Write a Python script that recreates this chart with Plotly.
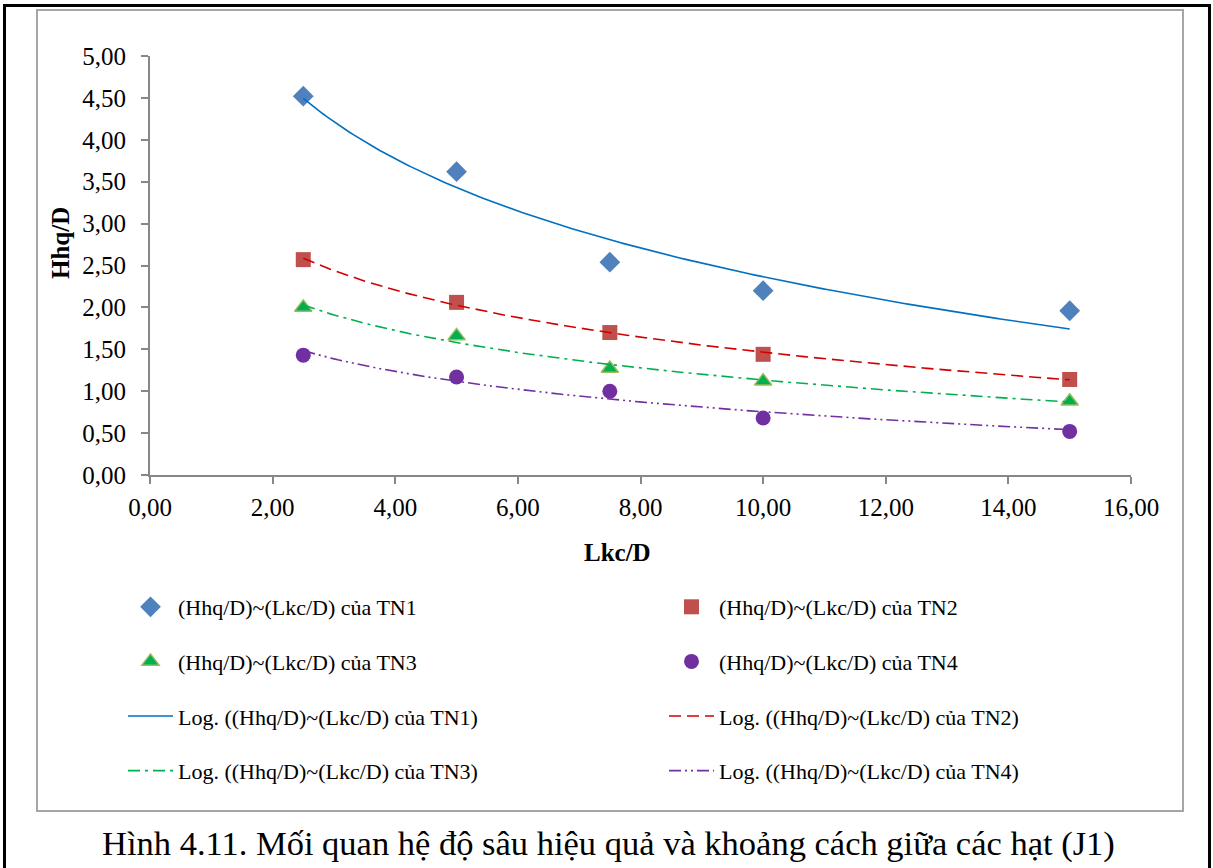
import numpy as np
import plotly.graph_objects as go

# ---- data ----
lkc = [2.5, 5.0, 7.5, 10.0, 15.0]
tn1 = [4.52, 3.62, 2.54, 2.20, 1.96]
tn2 = [2.57, 2.06, 1.70, 1.44, 1.14]
tn3 = [2.00, 1.66, 1.27, 1.12, 0.88]
tn4 = [1.43, 1.17, 1.00, 0.68, 0.52]
names = ["TN1", "TN2", "TN3", "TN4"]
x_ticks = [0, 2, 4, 6, 8, 10, 12, 14, 16]
y_ticks = [0, 0.5, 1, 1.5, 2, 2.5, 3, 3.5, 4, 4.5, 5]

OFF = 0  # body margin removed via post_script
W_FIG, H_FIG = 1213, 868
# plot area in screen pixels
SL, SR, ST, SB = 150, 1131, 56, 475
L, R, T, B = SL - OFF, SR - OFF, ST - OFF, SB - OFF
PW, PH = R - L, B - T

def px(xs_):
    return (xs_ - SL) / PW

def py(ys_):
    return (SB - ys_) / PH

FONT = "Liberation Serif"

series = [tn1, tn2, tn3, tn4]
marker_styles = [
    dict(symbol="diamond", size=16, color="#4F81BD", line=dict(width=0)),
    dict(symbol="square", size=15, color="#C0504D", line=dict(width=0)),
    dict(symbol="triangle-up", size=15, color="#00B050", line=dict(width=1.5, color="#9BBB59")),
    dict(symbol="circle", size=15, color="#7030A0", line=dict(width=0)),
]
line_styles = [
    dict(color="#0070C0", width=1.6, dash="solid"),
    dict(color="#D00000", width=1.6, dash="12px,6px"),
    dict(color="#00B050", width=1.6, dash="12px,5px,3px,5px"),
    dict(color="#7030A0", width=1.6, dash="12px,4px,2px,4px,2px,4px"),
]
legend_of = ["legend", "legend2", "legend", "legend2"]

fig = go.Figure()
lx = np.log(np.array(lkc))
xs = np.linspace(min(lkc), max(lkc), 200)
for i, (nm, ys) in enumerate(zip(names, series)):
    fig.add_trace(go.Scatter(
        x=lkc, y=ys, mode="markers", marker=marker_styles[i],
        name=f"(Hhq/D)~(Lkc/D) của {nm}", legend=legend_of[i],
        legendgroup=f"m{i}", legendrank=i // 2 * 10 + 1))
for i, (nm, ys) in enumerate(zip(names, series)):
    a, b = np.polyfit(lx, np.array(ys), 1)
    fig.add_trace(go.Scatter(
        x=xs, y=a * np.log(xs) + b, mode="lines", line=line_styles[i],
        name=f"Log. ((Hhq/D)~(Lkc/D) của {nm})", legend=legend_of[i],
        legendgroup=f"l{i}", legendrank=100 + i // 2 * 10 + 1))

axis_common = dict(
    showgrid=False, zeroline=False, showline=True, linecolor="#878787", linewidth=2,
    ticks="outside", ticklen=7, tickwidth=1.5, tickcolor="#878787",
    tickfont=dict(family=FONT, size=25, color="black"), tickformat=".2f",
)

leg_common = dict(
    orientation="v", font=dict(family=FONT, size=22, color="black"),
    bgcolor="rgba(0,0,0,0)", traceorder="grouped", tracegroupgap=23,
    itemwidth=45, xref="paper", yref="paper", yanchor="top", xanchor="left",
)

fig.update_layout(
    width=W_FIG, height=H_FIG,
    margin=dict(l=L, r=W_FIG - R, t=T, b=H_FIG - B, autoexpand=False),
    paper_bgcolor="white", plot_bgcolor="white",
    separators=",.",
    showlegend=True,
    font=dict(family=FONT),
    xaxis=dict(range=[0, 16], tickvals=x_ticks, automargin=False, ticklabelstandoff=2, **axis_common),
    yaxis=dict(range=[0, 5], tickvals=y_ticks, automargin=False, ticklabelstandoff=10, **axis_common),
    legend=dict(x=px(123), y=py(586), **leg_common),
    legend2=dict(x=px(664), y=py(586), **leg_common),
    annotations=[
        dict(text="<b>Hhq/D</b>", x=px(60), y=py(243), xref="paper", yref="paper",
             xanchor="center", yanchor="middle",
             textangle=-90, showarrow=False, font=dict(family=FONT, size=25, color="black")),
        dict(text="<b>Lkc/D</b>", x=px(617), y=py(552), xref="paper", yref="paper",
             xanchor="center", yanchor="middle",
             showarrow=False, font=dict(family=FONT, size=25, color="black")),
        dict(text="Hình 4.11. Mối quan hệ độ sâu hiệu quả và khoảng cách giữa các hạt (J1)",
             x=px(608), y=py(843), xref="paper", yref="paper", showarrow=False,
             xanchor="center", yanchor="middle",
             font=dict(family=FONT, size=34.5, color="black")),
    ],
    shapes=[
        dict(type="rect", xref="paper", yref="paper", x0=px(37), x1=px(1183), y0=py(811), y1=py(10),
             line=dict(color="#A6A6A6", width=2), layer="below"),
        dict(type="rect", xref="paper", yref="paper", x0=px(4.5), x1=px(1209.5), y0=py(900), y1=py(5.5),
             line=dict(color="black", width=3), layer="below"),
    ],
)

fig.write_html("out.html", config={"displayModeBar": False},
               post_script="document.body.style.margin='0px';document.body.style.overflow='hidden';")
